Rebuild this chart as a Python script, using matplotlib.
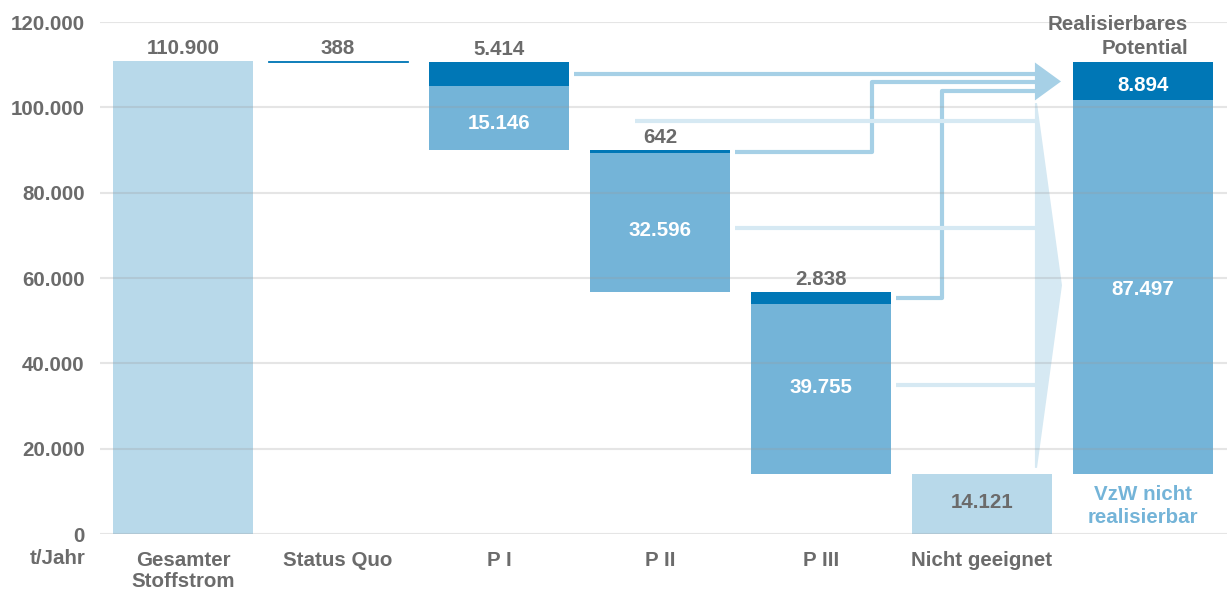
import matplotlib.pyplot as plt
from matplotlib.patches import Polygon

# Daten (t/Jahr)
categories = ["Gesamter\nStoffstrom", "Status Quo", "P I", "P II", "P III", "Nicht geeignet", ""]
positions = [0.04, 1, 2, 3, 4, 5, 6]
total = 110900
status_quo = 388
realisierbar = [5414, 642, 2838]        # dunkle Segmente P I - P III
nicht_realisierbar = [15146, 32596, 39755]  # helle Segmente P I - P III
nicht_geeignet = 14121
potential_real = 8894
potential_vzw = 87497
yticks = [0, 20000, 40000, 60000, 80000, 100000, 120000]

c_light = "#b8d9ea"
c_mid = "#74b4d8"
c_dark = "#0077b6"
c_conn = "#a6d0e6"
c_conn_light = "#d6e9f3"
c_text = "#6b6b6b"

plt.rcParams['font.family'] = ['Liberation Sans', 'DejaVu Sans']

fig = plt.figure(figsize=(12.27, 5.89), dpi=100)
ax = fig.add_axes([100 / 1227, 55 / 589, 1127 / 1227, 512 / 589])
ax.set_xlim(-0.478, 6.522)
ax.set_ylim(0, 120000)

w = 0.87
fs = 14.8
above = 1700   # Abstand Wertelabel über Balken (Grundlinie)
cshift = -650  # Korrektur für vertikal zentrierte Labels


def fmt(v):
    return f"{v:,}".replace(",", ".")


# Gesamter Stoffstrom
ax.bar(positions[0], total, width=w, color=c_light, zorder=1)
ax.text(positions[0], total + above, fmt(total), ha="center", va="baseline", fontsize=fs,
        fontweight="bold", color=c_text)

# Status Quo
level = total - status_quo
ax.bar(positions[1], status_quo, bottom=level, width=w, color=c_dark,
       edgecolor=c_dark, lw=0.6, zorder=1)
ax.text(positions[1], total + above, fmt(status_quo), ha="center", va="baseline", fontsize=fs,
        fontweight="bold", color=c_text)

# P I - P III
label_adj = [-700, -1300, 900]
dark_mids = []
mid_mids = []
for i, (r, n) in enumerate(zip(realisierbar, nicht_realisierbar)):
    x = positions[2 + i]
    top = level
    ax.bar(x, r, bottom=top - r, width=w, color=c_dark, zorder=1)
    ax.bar(x, n, bottom=top - r - n, width=w, color=c_mid, zorder=1)
    ax.text(x, top + above, fmt(r), ha="center", va="baseline", fontsize=fs,
            fontweight="bold", color=c_text)
    ym = top - r - n / 2 + label_adj[i]
    ax.text(x, ym + cshift, fmt(n), ha="center", va="center", fontsize=fs,
            fontweight="bold", color="white", zorder=4)
    dark_mids.append(top - r / 2)
    mid_mids.append(ym)
    level = top - r - n

# Nicht geeignet
ax.bar(positions[5], nicht_geeignet, width=w, color=c_light, zorder=1)
ax.text(positions[5], nicht_geeignet / 2 + 900 + cshift, fmt(nicht_geeignet), ha="center",
        va="center", fontsize=fs, fontweight="bold", color=c_text, zorder=4)

# Realisierbares Potential
xr = positions[6]
ax.bar(xr, potential_vzw, bottom=nicht_geeignet, width=w, color=c_mid, zorder=1)
ax.bar(xr, potential_real, bottom=nicht_geeignet + potential_vzw, width=w,
       color=c_dark, zorder=1)
ax.text(xr, nicht_geeignet + potential_vzw + potential_real / 2 - 300 + cshift,
        fmt(potential_real), ha="center", va="center", fontsize=fs, fontweight="bold",
        color="white", zorder=4)
ax.text(xr, nicht_geeignet + potential_vzw / 2 + cshift, fmt(potential_vzw),
        ha="center", va="center", fontsize=fs, fontweight="bold", color="white", zorder=4)
ax.text(xr + 0.28, 116600, "Realisierbares\nPotential", ha="right", va="center",
        fontsize=fs, fontweight="bold", color=c_text, linespacing=1.35)
ax.text(xr, 6600, "VzW nicht\nrealisierbar", ha="center", va="center",
        fontsize=fs, fontweight="bold", color=c_mid, linespacing=1.3)

# Verbindungslinien
gap = 0.03
x_arrow = 5.329
arrow_top = nicht_geeignet + potential_vzw + potential_real
arrow_bot = nicht_geeignet + potential_vzw
arrow_mid = (arrow_top + arrow_bot) / 2
lw = 3.0

# P I realisierbar -> Pfeil
ax.plot([positions[2] + w / 2 + gap, x_arrow], [dark_mids[0], dark_mids[0]], color=c_conn,
        lw=lw, solid_capstyle="butt", zorder=2)
# P II realisierbar -> Pfeil
y2 = arrow_mid - 200
ax.plot([positions[3] + w / 2 + gap, 4.317, 4.317, x_arrow],
        [dark_mids[1], dark_mids[1], y2, y2],
        color=c_conn, lw=lw, solid_capstyle="butt", zorder=2)
# P III realisierbar -> Pfeil
y3 = arrow_mid - 2300
ax.plot([positions[4] + w / 2 + gap, 4.752, 4.752, x_arrow],
        [dark_mids[2], dark_mids[2], y3, y3],
        color=c_conn, lw=lw, solid_capstyle="butt", zorder=2)

# Pfeilspitze
ax.add_patch(Polygon([[x_arrow, arrow_top], [x_arrow, arrow_bot], [5.491, arrow_mid]],
                     closed=True, color=c_conn, lw=0, zorder=2))

# Nicht realisierbare Anteile
ax.plot([2.845, x_arrow], [mid_mids[0], mid_mids[0]], color=c_conn_light,
        lw=lw, solid_capstyle="butt", zorder=2)
ax.plot([positions[3] + w / 2 + gap, x_arrow], [mid_mids[1], mid_mids[1]],
        color=c_conn_light, lw=lw, solid_capstyle="butt", zorder=2)
ax.plot([positions[4] + w / 2 + gap, x_arrow], [mid_mids[2], mid_mids[2]],
        color=c_conn_light, lw=lw, solid_capstyle="butt", zorder=2)

# Trichter
ax.add_patch(Polygon([[x_arrow, 101000], [5.342, 101000], [5.497, 58300],
                      [5.342, 15500], [x_arrow, 15500]],
                     closed=True, color=c_conn_light, lw=0, zorder=1.5))

# Achsen
ax.set_yticks(yticks)
ax.set_yticklabels([fmt(v) for v in yticks])
ax.set_xticks(positions)
ax.set_xticklabels(categories, linespacing=1.15)
ax.tick_params(axis="both", length=0, labelsize=fs, labelcolor=c_text)
ax.tick_params(axis="y", pad=11)
ax.tick_params(axis="x", pad=12)
for lab in ax.get_xticklabels() + ax.get_yticklabels():
    lab.set_fontweight("bold")
for s in ax.spines.values():
    s.set_visible(False)
ax.grid(axis="y", color="#999999", alpha=0.25, lw=1.5, zorder=3)
ax.set_axisbelow(False)
ax.grid(axis="x", visible=False)

fig.text(85 / 1227, 1 - 558 / 589, "t/Jahr", ha="right", va="center", fontsize=fs,
         fontweight="bold", color=c_text)

fig.savefig("out.png", dpi=100)
